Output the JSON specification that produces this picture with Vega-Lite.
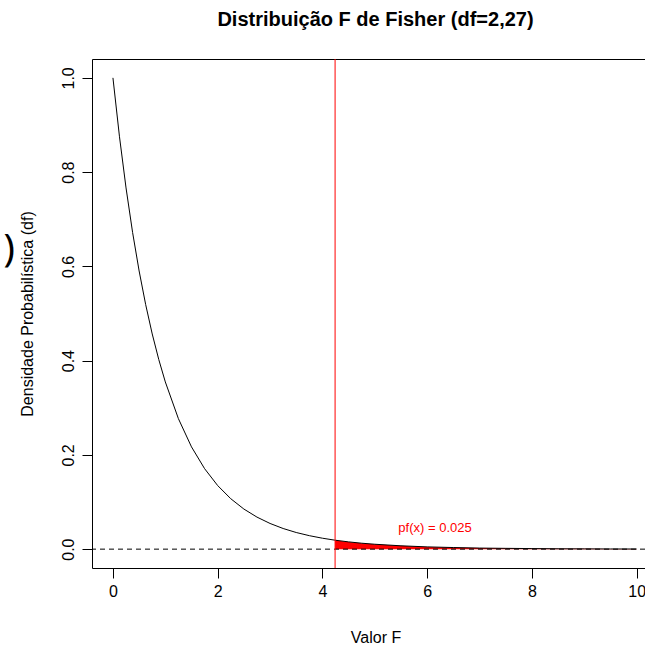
{
  "$schema": "https://vega.github.io/schema/vega-lite/v6.json",
  "autosize": {"type": "none"},
  "padding": {"left": 92, "top": 59, "right": 0, "bottom": 81},
  "width": 553,
  "height": 509,
  "background": "white",
  "title": {
    "text": "Distribuição F de Fisher (df=2,27)",
    "font": "Liberation Sans",
    "fontSize": 20,
    "fontWeight": "bold",
    "color": "black",
    "anchor": "middle",
    "baseline": "alphabetic",
    "offset": 13,
    "dx": 7
  },
  "config": {
    "font": "Liberation Sans",
    "view": {"stroke": null},
    "axis": {
      "grid": false,
      "domainColor": "black",
      "domainWidth": 1,
      "tickColor": "black",
      "tickWidth": 1,
      "labelColor": "black",
      "titleColor": "black",
      "labelFont": "Liberation Sans",
      "titleFont": "Liberation Sans",
      "labelFontSize": 16,
      "titleFontSize": 16,
      "titleFontWeight": "normal"
    }
  },
  "datasets": {
    "curve": [
      {"x": 0, "density": 1.0},
      {"x": 0.125, "density": 0.8749},
      {"x": 0.25, "density": 0.7664},
      {"x": 0.375, "density": 0.6721},
      {"x": 0.5, "density": 0.5902},
      {"x": 0.625, "density": 0.5188},
      {"x": 0.75, "density": 0.4566},
      {"x": 0.875, "density": 0.4023},
      {"x": 1.0, "density": 0.3548},
      {"x": 1.25, "density": 0.2769},
      {"x": 1.5, "density": 0.2170},
      {"x": 1.75, "density": 0.1708},
      {"x": 2.0, "density": 0.1349},
      {"x": 2.25, "density": 0.1070},
      {"x": 2.5, "density": 0.0851},
      {"x": 2.75, "density": 0.0680},
      {"x": 3.0, "density": 0.0545},
      {"x": 3.25, "density": 0.0438},
      {"x": 3.5, "density": 0.0353},
      {"x": 3.75, "density": 0.0286},
      {"x": 4.0, "density": 0.0232},
      {"x": 4.242, "density": 0.0190},
      {"x": 4.5, "density": 0.0154},
      {"x": 4.75, "density": 0.0126},
      {"x": 5.0, "density": 0.0104},
      {"x": 5.5, "density": 0.0071},
      {"x": 6.0, "density": 0.0048},
      {"x": 6.5, "density": 0.0034},
      {"x": 7.0, "density": 0.0023},
      {"x": 7.5, "density": 0.0017},
      {"x": 8.0, "density": 0.0012},
      {"x": 8.5, "density": 0.0008},
      {"x": 9.0, "density": 0.0006},
      {"x": 9.5, "density": 0.0004},
      {"x": 10.0, "density": 0.0003}
    ],
    "labels": [
      {"x": 6.15, "y": 0.045, "label": "pf(x) = 0.025"}
    ],
    "stray": [
      {"x": -1.98, "y": 0.635, "label": ")"}
    ]
  },
  "resolve": {"axis": {"x": "independent"}},
  "layer": [
    {
      "data": {"name": "curve"},
      "transform": [{"filter": "datum.x >= 4.242"}],
      "mark": {"type": "area", "color": "#FF0000", "opacity": 1},
      "encoding": {
        "x": {"field": "x", "type": "quantitative", "scale": {"domain": [-0.4, 10.16], "nice": false, "zero": false}, "axis": null},
        "y": {"field": "density", "type": "quantitative", "scale": {"domain": [-0.04, 1.04], "nice": false, "zero": false}},
        "y2": {"datum": 0}
      }
    },
    {
      "data": {"name": "curve"},
      "mark": {"type": "line", "color": "black", "strokeWidth": 1},
      "encoding": {
        "x": {
          "field": "x", "type": "quantitative",
          "axis": {
            "values": [0, 2, 4, 6, 8, 10],
            "tickSize": 10,
            "labelPadding": 18,
            "labelBaseline": "alphabetic",
            "labelFlush": false,
            "labelOverlap": false,
            "title": "Valor F",
            "titleX": 283.5,
            "titleY": 69,
            "titleBaseline": "middle",
            "titleAnchor": null
          }
        },
        "y": {
          "field": "density", "type": "quantitative",
          "axis": {
            "values": [0, 0.2, 0.4, 0.6, 0.8, 1.0],
            "format": ".1f",
            "tickSize": 10,
            "labelAngle": 270,
            "labelAlign": "center",
            "labelBaseline": "alphabetic",
            "labelPadding": 9,
            "labelFlush": false,
            "labelOverlap": false,
            "title": "Densidade Probabilística (df)",
            "titleX": -65,
            "titleBaseline": "middle",
            "titleAngle": 270
          }
        }
      }
    },
    {
      "data": {"values": [{}]},
      "mark": {"type": "rule", "color": "black", "strokeWidth": 1, "strokeDash": [5, 4]},
      "encoding": {
        "y": {"datum": 0}
      }
    },
    {
      "data": {"values": [{}]},
      "mark": {"type": "rule", "color": "#FF0000", "strokeWidth": 1},
      "encoding": {
        "x": {
          "datum": 4.242,
          "axis": {"orient": "top", "labels": false, "ticks": false, "title": null, "domain": true}
        }
      }
    },
    {
      "data": {"name": "labels"},
      "mark": {"type": "text", "color": "#FF0000", "fontSize": 13, "align": "center", "baseline": "middle", "font": "Liberation Sans"},
      "encoding": {
        "x": {"field": "x", "type": "quantitative", "axis": null},
        "y": {"field": "y", "type": "quantitative"},
        "text": {"field": "label"}
      }
    },
    {
      "data": {"name": "stray"},
      "mark": {"type": "text", "color": "black", "fontSize": 38, "align": "center", "baseline": "middle", "font": "Noto Sans", "clip": false},
      "encoding": {
        "x": {"field": "x", "type": "quantitative", "axis": null},
        "y": {"field": "y", "type": "quantitative"},
        "text": {"field": "label"}
      }
    }
  ]
}
